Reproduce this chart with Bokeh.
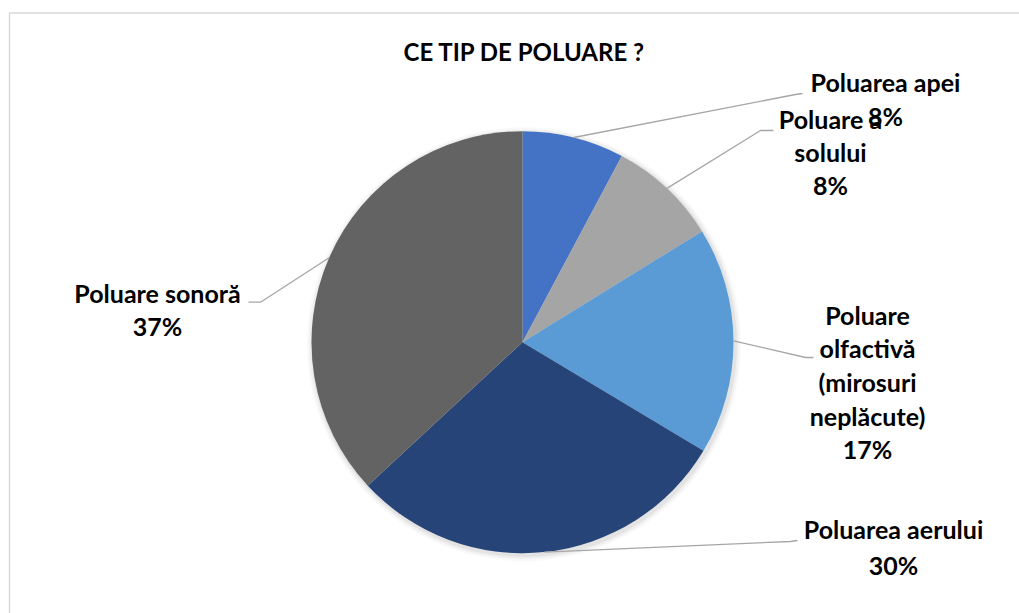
import math
from bokeh.plotting import figure
from bokeh.models import Range1d
from bokeh.core.properties import value
from bokeh.embed import file_html
from bokeh.resources import INLINE

# ---- data ----
title = "CE TIP DE POLUARE ?"
categories = ["Poluarea apei", "Poluare a\nsolului", "Poluare\nolfactivă\n(mirosuri\nneplăcute)",
              "Poluarea aerului", "Poluare sonoră"]
values = [7.8, 8.4, 17.4, 29.5, 36.9]
pct_labels = ["8%", "8%", "17%", "30%", "37%"]
colors = ["#4472C4", "#A5A5A5", "#5B9BD5", "#264478", "#636363"]

W, H = 1019, 613
FONT = "Lato"
TEXT_DY = -3


def X(px):
    return px


def Y(py):
    return H - py


p = figure(width=W, height=H, output_backend="svg", toolbar_location=None,
           x_range=Range1d(0, W), y_range=Range1d(0, H), min_border=0)
p.axis.visible = False
p.grid.visible = False
p.outline_line_color = None
p.background_fill_color = "white"

# chart border (left and top visible)
p.line([X(9), X(9), X(1030)], [Y(700), Y(12.5), Y(12.5)], line_color="#D9D9D9", line_width=1.5)

# pie geometry
cx, cy, R = X(522), Y(341.7), 211
total = sum(values)

# soft shadow
for k, a in [(6, 0.025), (4, 0.035), (2, 0.05)]:
    p.circle([cx + 1.5], [cy - 2], radius=R + k, fill_color="black", fill_alpha=a, line_color=None)

cum = 0.0
mids = []
for v, c in zip(values, colors):
    f0 = cum / total
    f1 = (cum + v) / total
    p.wedge([cx], [cy], radius=R, start_angle=math.pi / 2 - 2 * math.pi * f0,
            end_angle=math.pi / 2 - 2 * math.pi * f1, direction="clock",
            fill_color=c, line_color=None)
    mids.append((f0 + f1) / 2)
    cum += v

# label layout: elbow, end (page coords), label center x, first line y, line spacing
layout = [
    (795, 94, 802, 93, 885, 84, 34),
    (760, 130, 773, 130, 830, 121, 33),
    (805, 357, 813, 357, 867, 317, 33.7),
    (790, 541, 797, 540, 893, 531, 36),
    (260, 301.7, 248, 301.7, 157, 295, 33),
]

for m, cat, pl, (ex, ey, tx, ty, lx, ly, sp) in zip(mids, categories, pct_labels, layout):
    ang = 2 * math.pi * m
    sx = cx + R * math.sin(ang)
    sy = cy + R * math.cos(ang)
    p.line([sx, X(ex), X(tx)], [sy, Y(ey), Y(ty)], line_color="#A6A6A6", line_width=1.3)
    lines = cat.split("\n") + [pl]
    for i, t in enumerate(lines):
        p.text([X(lx)], [Y(ly + i * sp + TEXT_DY)], text=[t], text_align="center",
               text_baseline="middle", text_font=value(FONT), text_font_style="bold",
               text_font_size="25px", text_color="black")

p.text([X(524)], [Y(50.5)], text=[title], text_align="center", text_baseline="middle",
       text_font=value(FONT), text_font_style="bold", text_font_size="24px", text_color="black")

open("out.html", "w").write(file_html(p, INLINE))
